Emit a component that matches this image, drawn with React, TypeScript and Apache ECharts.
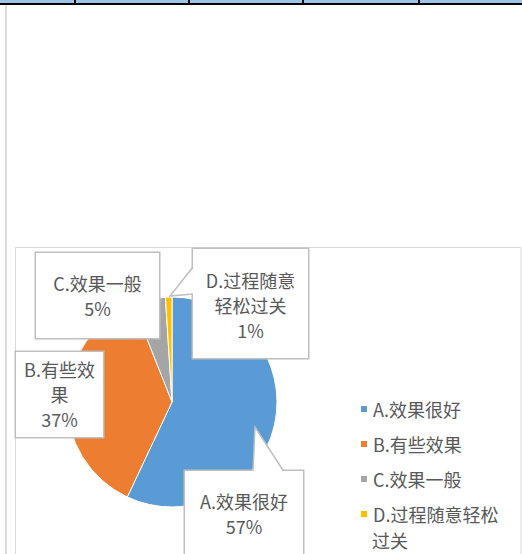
import React, { useEffect, useRef } from "react";
import * as echarts from "echarts";

const categories = ["A.效果很好", "B.有些效果", "C.效果一般", "D.过程随意轻松过关"];
const values = [57, 37, 5, 1];
const sliceLabelNames = ["A.效果很好", "B.有些效\n果", "C.效果一般", "D.过程随意\n轻松过关"];
const legendNames = ["A.效果很好", "B.有些效果", "C.效果一般", "D.过程随意轻松"];
const legendWrap = "过关";
const colors = ["#5B9BD5", "#ED7D31", "#A5A5A5", "#FFC000"];

// label box layout (x, y = top-left, w = width, pad = [top, bottom])
const labelBoxes = [
  { x: 185, y: 471, w: 118, pad: [17.5, 17.5] },
  { x: 16, y: 352, w: 87, pad: [4.5, 5.5] },
  { x: 36, y: 253, w: 123, pad: [17.5, 17.5] },
  { x: 193, y: 249, w: 115, pad: [18.5, 15.5] },
];

const FONT = "'Noto Sans CJK SC', 'Noto Sans', sans-serif";
const TEXT = "#595959";
const BOX = "#bfbfbf";

export default function App() {
  const ref = useRef<HTMLDivElement>(null);
  useEffect(() => {
    document.body.style.margin = "0";
    const chart = echarts.init(ref.current!, null, { renderer: "svg" });
    const data = categories.map((c, i) => ({
      name: c,
      value: values[i],
      label: {
        width: labelBoxes[i].w,
        padding: [labelBoxes[i].pad[0], 0, labelBoxes[i].pad[1], 0],
      },
    }));
    const option: any = {
      animation: false,
      color: colors,
      textStyle: { fontFamily: FONT },
      legend: {
        orient: "vertical",
        left: 359,
        top: 398,
        padding: 0,
        itemWidth: 8,
        itemHeight: 8,
        itemGap: 13,
        icon: "rect",
        selectedMode: false,
        data: categories,
        formatter: (name: string) => legendNames[categories.indexOf(name)],
        textStyle: { fontSize: 18, lineHeight: 22, color: TEXT, fontFamily: FONT },
      },
      graphic: [
        { type: "rect", z: 0, shape: { x: 0, y: 0, width: 522, height: 3 }, style: { fill: "#9DC3E6" } },
        { type: "rect", z: 0, shape: { x: 0, y: 3, width: 522, height: 2 }, style: { fill: "#000" } },
        ...[74, 188, 302, 418].map((x) => ({
          type: "rect",
          z: 0,
          shape: { x, y: 0, width: 2, height: 4 },
          style: { fill: "#000" },
        })),
        { type: "rect", z: 0, shape: { x: 5, y: 5, width: 2, height: 549 }, style: { fill: "#dcdcdc" } },
        {
          type: "rect",
          z: 0,
          shape: { x: 15.5, y: 247.5, width: 505.5, height: 330 },
          style: { fill: "none", stroke: "#d9d9d9", lineWidth: 1 },
        },
        // callout pointers
        {
          type: "polygon",
          z: 100,
          shape: { points: [[253, 472.6], [255, 427], [283.5, 472.6]] },
          style: { fill: "#fff", stroke: "none" },
        },
        {
          type: "polyline",
          z: 101,
          shape: { points: [[253, 471], [255, 427], [283.5, 471]] },
          style: { fill: "none", stroke: BOX, lineWidth: 1.5 },
        },
        {
          type: "polygon",
          z: 100,
          shape: { points: [[194.6, 266.5], [170, 296], [194.6, 294.5]] },
          style: { fill: "#fff", stroke: "none" },
        },
        {
          type: "polyline",
          z: 101,
          shape: { points: [[193, 267], [170, 296], [193, 294]] },
          style: { fill: "none", stroke: BOX, lineWidth: 1.5 },
        },
        {
          type: "text",
          z: 10,
          x: 372,
          y: 540,
          style: {
            text: legendWrap,
            fontSize: 18,
            fontFamily: FONT,
            fill: TEXT,
            verticalAlign: "middle",
            align: "left",
          },
        },
      ],
      series: [
        {
          type: "pie",
          center: [172, 402],
          radius: 105,
          startAngle: 90,
          clockwise: true,
          avoidLabelOverlap: false,
          itemStyle: { borderColor: "#fff", borderWidth: 1 },
          emphasis: { disabled: true },
          label: {
            show: true,
            position: "outside",
            overflow: "none",
            color: TEXT,
            fontSize: 18,
            lineHeight: 25,
            fontFamily: FONT,
            backgroundColor: "#fff",
            borderColor: BOX,
            borderWidth: 1.5,
            align: "center",
            formatter: (p: any) => sliceLabelNames[p.dataIndex] + "\n" + Math.round(p.percent) + "%",
          },
          labelLine: { show: false },
          labelLayout: (p: any) => {
            const b = labelBoxes[p.dataIndex];
            return { x: b.x + b.w / 2, y: b.y, align: "center", verticalAlign: "top" };
          },
          data,
        },
      ],
    };
    chart.setOption(option);
    return () => chart.dispose();
  }, []);
  return <div ref={ref} style={{ width: 522, height: 554 }} />;
}
